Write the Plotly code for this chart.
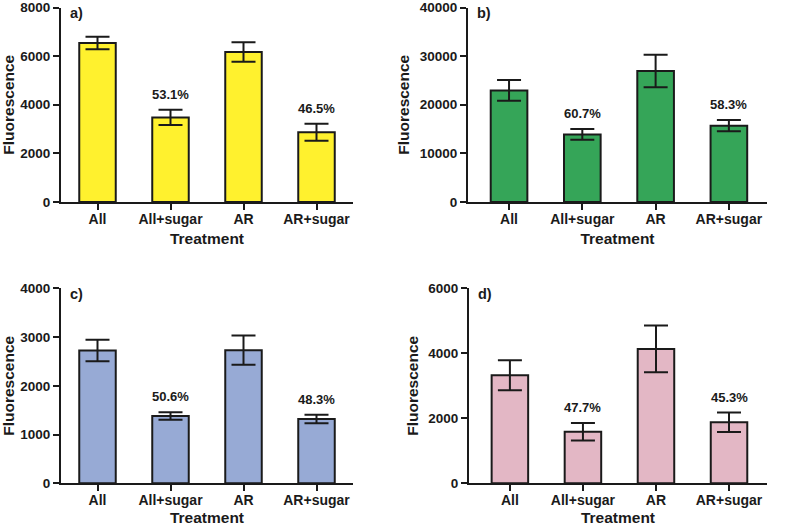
import plotly.graph_objects as go

categories = ["All", "All+sugar", "AR", "AR+sugar"]

means_a = [6540, 3480, 6170, 2870]
err_a = [260, 310, 400, 350]
pct_a = ["", "53.1%", "", "46.5%"]

means_b = [22950, 13900, 26950, 15700]
err_b = [2150, 1100, 3350, 1150]
pct_b = ["", "60.7%", "", "58.3%"]

means_c = [2725, 1380, 2730, 1320]
err_c = [220, 75, 300, 88]
pct_c = ["", "50.6%", "", "48.3%"]

means_d = [3325, 1585, 4135, 1875]
err_d = [460, 270, 720, 300]
pct_d = ["", "47.7%", "", "45.3%"]

panel_labels = ["a)", "b)", "c)", "d)"]
y_max = [8000, 40000, 4000, 6000]
y_step = [2000, 10000, 1000, 2000]

W, H = 787, 526
FONT = "Liberation Sans, Arial, sans-serif"

panels = [
    (means_a, err_a, pct_a, "#FFF12E", (61, 353), (7.5, 202)),
    (means_b, err_b, pct_b, "#35A558", (468, 767), (7.5, 202)),
    (means_c, err_c, pct_c, "#97AAD5", (61, 353), (288.3, 483.3)),
    (means_d, err_d, pct_d, "#E3B7C5", (469, 767), (288.3, 483.3)),
]

fig = go.Figure()
annotations = []
for i, (means, errs, pcts, color, (x0, x1), (yt, yb)) in enumerate(panels):
    n = "" if i == 0 else str(i + 1)
    xa, ya = "x" + n, "y" + n
    fig.add_trace(go.Bar(
        x=categories, y=means, width=0.5,
        marker=dict(color=color, line=dict(color="#1a1a1a", width=2)),
        error_y=dict(type="data", array=errs, color="#1a1a1a", thickness=2, width=12),
        xaxis=xa, yaxis=ya, showlegend=False,
    ))
    xr = [-0.5, 3.5] if i in (0, 2) else [-0.56, 3.52]
    axis_common = dict(showline=True, linecolor="#1a1a1a", linewidth=2,
                       ticks="outside", ticklen=6, tickwidth=2, tickcolor="#1a1a1a",
                       showgrid=False, zeroline=False, automargin=False)
    fig.layout["xaxis" + n] = dict(
        axis_common, domain=[x0 / W, x1 / W], anchor=ya, range=xr,
        tickfont=dict(family=FONT, size=14, color="#1a1a1a", weight="bold"),
        ticklabelstandoff=-3,
        title=dict(text="Treatment", standoff=7,
                   font=dict(family=FONT, size=15.5, color="#1a1a1a", weight="bold")),
    )
    fig.layout["yaxis" + n] = dict(
        axis_common, domain=[1 - yb / H, 1 - yt / H], anchor=xa,
        range=[0, y_max[i]], dtick=y_step[i], tick0=0, tickformat="d",
        ticklabeloverflow="allow",
        tickfont=dict(family=FONT, size=13.5, color="#1a1a1a", weight="bold"),
        title=dict(text="Fluorescence", standoff=6,
                   font=dict(family=FONT, size=15.5, color="#1a1a1a", weight="bold")),
    )
    for c, m, e, p in zip(categories, means, errs, pcts):
        if p:
            annotations.append(dict(
                x=c, y=m + e, xref=xa, yref=ya, text=p, showarrow=False,
                yanchor="bottom", yshift=6,
                font=dict(family=FONT, size=13, color="#1a1a1a", weight="bold")))
    annotations.append(dict(
        x=(x0 + 7) / W, y=1 - (yt + 6) / H, xref="paper", yref="paper",
        xanchor="left", yanchor="middle", text=panel_labels[i], showarrow=False,
        font=dict(family=FONT, size=14.5, color="#1a1a1a", weight="bold")))

fig.update_layout(
    width=W, height=H, margin=dict(l=0, r=0, t=0, b=0),
    paper_bgcolor="white", plot_bgcolor="white",
    annotations=annotations, bargap=0.5,
)
fig.write_html("out.html", config={"displayModeBar": False},
               post_script="document.body.style.margin='0';")
